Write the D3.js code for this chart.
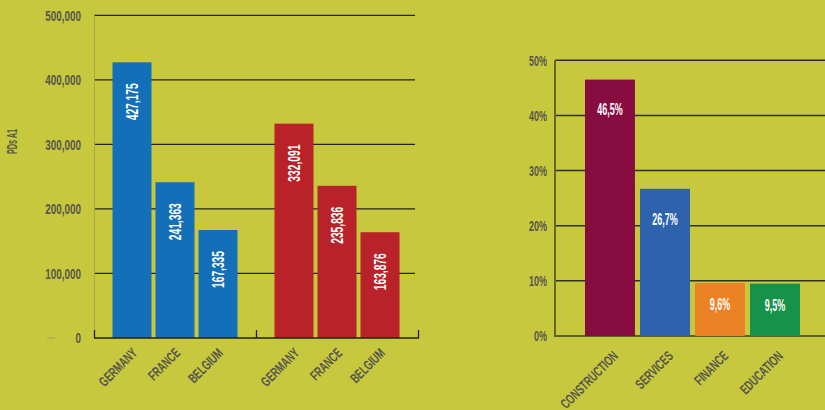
<!DOCTYPE html>
<html><head><meta charset="utf-8">
<script src="https://cdn.jsdelivr.net/npm/d3@7"></script>
<style>
html,body{margin:0;padding:0;background:#c8c83f;}
svg{display:block;font-family:"Liberation Sans",Arial,sans-serif;font-weight:bold;}
</style></head><body>
<svg id="chart" width="825" height="410"></svg>
<script>
// ---- data ----
const countries = ["GERMANY", "FRANCE", "BELGIUM"];
const groups = ["A", "B"];
const valuesA = [427175, 241363, 167335];
const valuesB = [332091, 235836, 163876];
const leftTicks = [0, 100000, 200000, 300000, 400000, 500000];
const leftTickLabels = ["0", "100,000", "200,000", "300,000", "400,000", "500,000"];
const leftAxisTitle = "PDs A1";

const sectors = ["CONSTRUCTION", "SERVICES", "FINANCE", "EDUCATION"];
const shares = [46.5, 26.7, 9.6, 9.5];
const rightTicks = [0, 10, 20, 30, 40, 50];
const rightTickLabels = ["0%", "10%", "20%", "30%", "40%", "50%"];

const groupColors = ["#136fb8", "#b92228"];
const sectorColors = ["#870d40", "#2e62ad", "#ec8226", "#16924a"];

const svg = d3.select("#chart");
const gray = "#56564a";
const SX = 0.66; // horizontal condensing of the type

// ---- left chart ----
const L = {x0: 94, x1: 418, y0: 338, y1: 15.3};
const yL = d3.scaleLinear().domain([0, 500000]).range([L.y0, L.y1]);
const gx = d3.scaleBand().domain(groups).range([L.x0, L.x1]).padding(0);
const cx = d3.scaleBand().domain(countries).range([0, gx.bandwidth()]).paddingInner(0.093).paddingOuter(0.43);

const left = svg.append("g");
left.selectAll("line.grid").data(leftTicks.filter(d => d > 0)).join("line")
  .attr("x1", L.x0).attr("x2", 415).attr("y1", d => yL(d)).attr("y2", d => yL(d))
  .attr("stroke", "#22221a").attr("stroke-width", 1.3);
left.append("line").attr("x1", L.x0 + 0.5).attr("x2", L.x0 + 0.5).attr("y1", yL(500000)).attr("y2", L.y0)
  .attr("stroke", "#a9a94a").attr("stroke-width", 1);
left.selectAll("text.tick").data(leftTicks).join("text")
  .attr("transform", d => `translate(81,${yL(d)}) scale(${SX},1)`).attr("dy", "0.36em")
  .attr("text-anchor", "end").attr("fill", gray).attr("font-size", 15)
  .text((d, i) => leftTickLabels[i]);
left.append("line").attr("x1", 47).attr("x2", 55).attr("y1", yL(0)).attr("y2", yL(0))
  .attr("stroke", "#a4a44a").attr("stroke-width", 1);
left.append("text").attr("transform", `translate(17,141.5) rotate(-90) scale(0.52,1)`)
  .attr("text-anchor", "middle").attr("fill", gray).attr("font-size", 14).text(leftAxisTitle);

const series = [valuesA, valuesB];
groups.forEach((g, gi) => {
  const gg = left.append("g").attr("transform", `translate(${gx(g)},0)`);
  gg.selectAll("rect").data(series[gi]).join("rect")
    .attr("x", (d, i) => cx(countries[i])).attr("width", cx.bandwidth())
    .attr("y", d => yL(d)).attr("height", d => yL(0) - yL(d))
    .attr("fill", groupColors[gi]);
  gg.selectAll("text.val").data(series[gi]).join("text")
    .attr("transform", (d, i) => `translate(${cx(countries[i]) + cx.bandwidth() / 2},${yL(d) + 21}) rotate(-90) scale(0.64,1)`)
    .attr("text-anchor", "end").attr("dy", "0.36em")
    .attr("fill", "#fff").attr("font-size", 16)
    .text(d => d3.format(",")(d));
  gg.selectAll("text.cat").data(countries).join("text")
    .attr("transform", d => `translate(${cx(d) + cx.bandwidth() / 2 + 6},${354}) rotate(-45) scale(${SX},1)`)
    .attr("text-anchor", "end").attr("fill", gray).attr("font-size", 14)
    .text(d => d);
});
left.append("line").attr("x1", L.x0).attr("x2", L.x1 + 1).attr("y1", L.y0).attr("y2", L.y0)
  .attr("stroke", "#22221a").attr("stroke-width", 1.5);
left.selectAll("line.gt").data([L.x0, gx("B"), L.x1]).join("line")
  .attr("x1", d => d + 0.5).attr("x2", d => d + 0.5).attr("y1", L.y0 - 8).attr("y2", L.y0)
  .attr("stroke", "#22221a").attr("stroke-width", 1.3);

// ---- right chart ----
const R = {x0: 555, x1: 830, y0: 336, y1: 60.3};
const yR = d3.scaleLinear().domain([0, 50]).range([R.y0, R.y1]);
const xR = d3.scaleBand().domain(sectors).range([R.x0, R.x1]).paddingInner(0.091).paddingOuter(0.545);
const right = svg.append("g");
right.selectAll("line.grid").data(rightTicks).join("line")
  .attr("x1", R.x0).attr("x2", 825).attr("y1", d => yR(d)).attr("y2", d => yR(d))
  .attr("stroke", d => d === 0 ? "#5e5e28" : "#2e2e22").attr("stroke-width", d => d === 0 ? 2 : 1.5);
right.append("line").attr("x1", R.x0).attr("x2", R.x0).attr("y1", yR(50)).attr("y2", R.y0 + 1)
  .attr("stroke", "#66662a").attr("stroke-width", 2);
right.selectAll("text.tick").data(rightTicks).join("text")
  .attr("transform", d => `translate(547,${yR(d)}) scale(0.6,1)`).attr("dy", "0.36em")
  .attr("text-anchor", "end").attr("fill", gray).attr("font-size", 15)
  .text((d, i) => rightTickLabels[i]);
right.selectAll("rect").data(shares).join("rect")
  .attr("x", (d, i) => xR(sectors[i])).attr("width", xR.bandwidth())
  .attr("y", d => yR(d)).attr("height", d => yR(0) - yR(d))
  .attr("fill", (d, i) => sectorColors[i]);
right.selectAll("text.val").data(shares).join("text")
  .attr("transform", (d, i) => `translate(${xR(sectors[i]) + xR.bandwidth() / 2},${yR(d) + Math.min(30, (yR(0) - yR(d)) / 2 - 5)}) scale(0.56,1)`)
  .attr("dy", "0.36em").attr("text-anchor", "middle")
  .attr("fill", "#fff").attr("font-size", 16)
  .text(d => d3.format(".1f")(d).replace(".", ",") + "%");
right.selectAll("text.cat").data(sectors).join("text")
  .attr("transform", d => `translate(${xR(d) + xR.bandwidth() / 2 + 9},${357}) rotate(-45) scale(${SX},1)`)
  .attr("text-anchor", "end").attr("fill", gray).attr("font-size", 14)
  .text(d => d);
</script>
</body></html>
